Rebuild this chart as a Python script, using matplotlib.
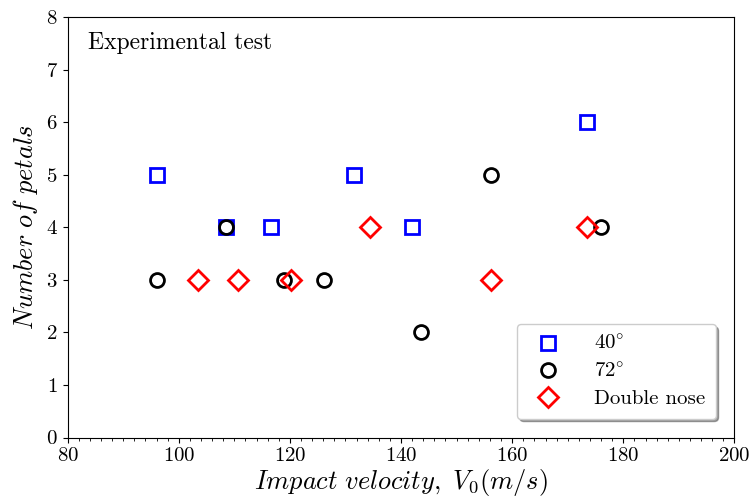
import numpy as np
import matplotlib.pyplot as plt
from matplotlib.ticker import MultipleLocator

plt.rcParams['font.family'] = 'serif'
plt.rcParams['font.serif'] = ['cmr10']
plt.rcParams['mathtext.fontset'] = 'cm'
plt.rcParams['axes.formatter.use_mathtext'] = True

# Datos
v_40 = [96.0, 108.5, 116.6, 131.5, 142.0, 173.4]
n_40 = [5, 4, 4, 5, 4, 6]

v_72 = [96.0, 108.5, 119.0, 126.2, 143.6, 156.2, 176.0]
n_72 = [3, 4, 3, 3, 2, 5, 4]

v_dn = [103.4, 110.7, 120.2, 134.4, 156.2, 173.4]
n_dn = [3, 3, 3, 4, 3, 4]

fig, ax = plt.subplots(figsize=(7.51, 5.0), dpi=100)
fig.subplots_adjust(left=0.09, right=0.978, top=0.966, bottom=0.125)

ax.plot(v_40, n_40, 's', mfc='none', mec='blue', ms=10, mew=2, linestyle='none', label=r'$40^{\circ}$')
ax.plot(v_72, n_72, 'o', mfc='none', mec='black', ms=10, mew=2, linestyle='none', label=r'$72^{\circ}$')
ax.plot(v_dn, n_dn, 'D', mfc='none', mec='red', ms=10, mew=2, linestyle='none', label='Double nose')

ax.set_xlim(80, 200)
ax.set_ylim(0, 8)
ax.xaxis.set_minor_locator(MultipleLocator(2))
ax.tick_params(axis='both', labelsize=15)
ax.set_xlabel(r'$Impact\ velocity,\ V_0(m/s)$', fontsize=19, labelpad=1)
ax.set_ylabel(r'$Number\ of\ petals$', fontsize=19)

ax.text(0.03, 0.965, 'Experimental test', transform=ax.transAxes, fontsize=17, va='top', ha='left')

leg = ax.legend(loc='lower right', fontsize=15, shadow=True, fancybox=True, borderpad=0.5,
                handletextpad=1.2, labelspacing=0.4, borderaxespad=0.9)

plt.savefig('out.png', dpi=100)
